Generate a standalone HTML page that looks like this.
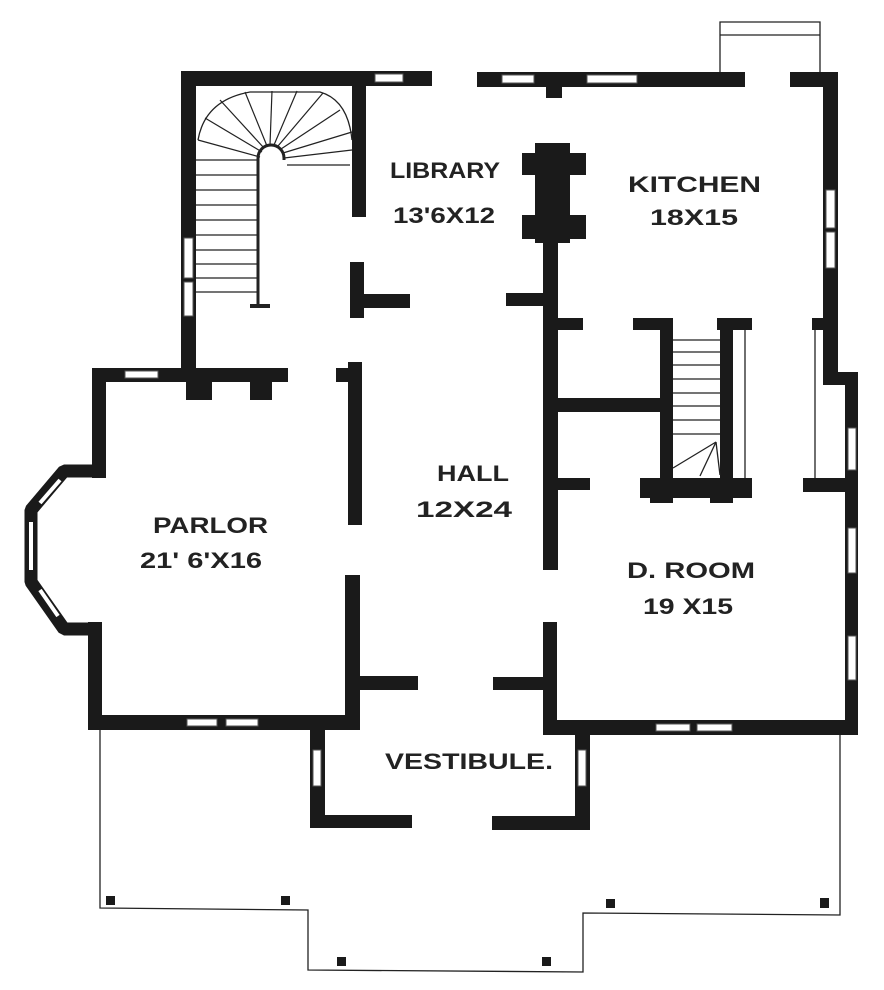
<!DOCTYPE html>
<html><head><style>html,body{margin:0;padding:0;background:#fff;}svg{display:block}</style></head>
<body>
<svg width="884" height="990" viewBox="0 0 884 990" xmlns="http://www.w3.org/2000/svg">
<g fill="#1a1a1a">
<rect x="181" y="71" width="251" height="15"/>
<rect x="181" y="71" width="15" height="297"/>
<rect x="352" y="71" width="14" height="146"/>
<rect x="477" y="72" width="268" height="15"/>
<rect x="546" y="86" width="16" height="12"/>
<rect x="790" y="72" width="48" height="15"/>
<rect x="823" y="72" width="15" height="305"/>
<rect x="535" y="143" width="35" height="100"/>
<rect x="522" y="153" width="64" height="22"/>
<rect x="522" y="215" width="64" height="24"/>
<rect x="543" y="240" width="15" height="330"/>
<rect x="506" y="293" width="40" height="13"/>
<rect x="558" y="318" width="25" height="12"/>
<rect x="350" y="262" width="14" height="56"/>
<rect x="362" y="294" width="48" height="14"/>
<rect x="348" y="362" width="14" height="163"/>
<rect x="336" y="368" width="14" height="14"/>
<rect x="345" y="575" width="15" height="155"/>
<rect x="358" y="676" width="60" height="14"/>
<rect x="543" y="622" width="14" height="113"/>
<rect x="493" y="677" width="52" height="13"/>
<rect x="558" y="398" width="104" height="14"/>
<rect x="660" y="320" width="13" height="178"/>
<rect x="633" y="318" width="40" height="12"/>
<rect x="717" y="318" width="35" height="12"/>
<rect x="720" y="320" width="13" height="178"/>
<rect x="640" y="478" width="112" height="20"/>
<rect x="650" y="490" width="23" height="13"/>
<rect x="710" y="490" width="23" height="13"/>
<rect x="558" y="478" width="32" height="12"/>
<rect x="812" y="318" width="14" height="12"/>
<rect x="823" y="372" width="35" height="13"/>
<rect x="845" y="372" width="13" height="363"/>
<rect x="803" y="478" width="44" height="14"/>
<rect x="543" y="720" width="315" height="15"/>
<rect x="92" y="368" width="196" height="14"/>
<rect x="186" y="380" width="26" height="20"/>
<rect x="250" y="380" width="22" height="20"/>
<rect x="92" y="368" width="14" height="110"/>
<rect x="88" y="622" width="14" height="108"/>
<rect x="88" y="715" width="272" height="15"/>
<rect x="310" y="728" width="15" height="100"/>
<rect x="310" y="815" width="102" height="13"/>
<rect x="492" y="816" width="98" height="14"/>
<rect x="575" y="733" width="15" height="97"/>
<rect x="106" y="896" width="9" height="9"/>
<rect x="281" y="896" width="9" height="9"/>
<rect x="606" y="899" width="9" height="9"/>
<rect x="820" y="898" width="9" height="10"/>
<rect x="337" y="957" width="9" height="9"/>
<rect x="542" y="957" width="9" height="9"/>
</g>
<!-- bay -->
<polyline points="102,471 64,471 31,510 31,582 64,629 98,629" fill="none" stroke="#1a1a1a" stroke-width="13" stroke-linejoin="bevel"/>
<g stroke="#fff" stroke-width="4" fill="none">
<line x1="40" y1="503" x2="60" y2="480"/>
<line x1="31" y1="522" x2="31" y2="570"/>
<line x1="40" y1="590" x2="58" y2="616"/>
</g>
<g fill="#fff" stroke="#555" stroke-width="1">
<rect x="375" y="74" width="28" height="8"/>
<rect x="502" y="75" width="32" height="8"/>
<rect x="587" y="75" width="50" height="8"/>
<rect x="826" y="190" width="9" height="38"/>
<rect x="826" y="232" width="9" height="36"/>
<rect x="184" y="238" width="9" height="40"/>
<rect x="184" y="282" width="9" height="34"/>
<rect x="125" y="371" width="33" height="7"/>
<rect x="187" y="719" width="30" height="7"/>
<rect x="226" y="719" width="32" height="7"/>
<rect x="848" y="428" width="8" height="42"/>
<rect x="848" y="528" width="8" height="45"/>
<rect x="848" y="636" width="8" height="44"/>
<rect x="656" y="724" width="34" height="7"/>
<rect x="697" y="724" width="35" height="7"/>
<rect x="313" y="750" width="8" height="36"/>
<rect x="578" y="750" width="8" height="36"/>
</g>
<g stroke="#222" stroke-width="1.3" fill="none">
<polyline points="100,730 100,908 308,910 308,970 583,972 583,913 840,915 840,735"/>
<polyline points="720,72 720,22 820,22 820,72"/>
<line x1="720" y1="35" x2="820" y2="35"/>
<line x1="745" y1="330" x2="745" y2="478"/>
<line x1="815" y1="330" x2="815" y2="478"/>
<line x1="673" y1="340" x2="720" y2="340"/>
<line x1="673" y1="352" x2="720" y2="352"/>
<line x1="673" y1="365" x2="720" y2="365"/>
<line x1="673" y1="379" x2="720" y2="379"/>
<line x1="673" y1="393" x2="720" y2="393"/>
<line x1="673" y1="406" x2="720" y2="406"/>
<line x1="673" y1="420" x2="720" y2="420"/>
<line x1="673" y1="434" x2="720" y2="434"/>
<line x1="716" y1="442" x2="673" y2="468"/>
<line x1="716" y1="442" x2="700" y2="476"/>
<line x1="716" y1="442" x2="720" y2="475"/>
<path d="M198,140 Q205,100 250,92 L320,92 Q348,100 352,140" />
<path d="M258,305 L258,158 A13,13 0 0 1 284,158 L284,160" stroke-width="3"/>
<line x1="250" y1="306" x2="270" y2="306" stroke-width="4"/>
<g stroke-width="1.2">
<line x1="260" y1="157" x2="198" y2="140"/>
<line x1="262" y1="152" x2="205" y2="118"/>
<line x1="264" y1="148" x2="220" y2="100"/>
<line x1="267" y1="146" x2="245" y2="92"/>
<line x1="270" y1="145" x2="272" y2="91"/>
<line x1="274" y1="145" x2="297" y2="91"/>
<line x1="278" y1="146" x2="323" y2="93"/>
<line x1="281" y1="149" x2="340" y2="110"/>
<line x1="283" y1="153" x2="352" y2="132"/>
<line x1="284" y1="158" x2="352" y2="150"/>
<line x1="287" y1="165" x2="350" y2="165"/>
<line x1="196" y1="160" x2="258" y2="160"/>
<line x1="196" y1="175" x2="258" y2="175"/>
<line x1="196" y1="190" x2="258" y2="190"/>
<line x1="196" y1="205" x2="258" y2="205"/>
<line x1="196" y1="220" x2="258" y2="220"/>
<line x1="196" y1="235" x2="258" y2="235"/>
<line x1="196" y1="250" x2="258" y2="250"/>
<line x1="196" y1="264" x2="258" y2="264"/>
<line x1="196" y1="278" x2="258" y2="278"/>
<line x1="196" y1="292" x2="258" y2="292"/>
</g>
</g>
<g font-family="Liberation Sans, sans-serif" font-weight="bold" font-size="22" fill="#222">
<text x="390" y="178" textLength="110" lengthAdjust="spacingAndGlyphs">LIBRARY</text>
<text x="393" y="223" textLength="102" lengthAdjust="spacingAndGlyphs">13'6X12</text>
<text x="628" y="192" textLength="133" lengthAdjust="spacingAndGlyphs">KITCHEN</text>
<text x="650" y="225" textLength="88" lengthAdjust="spacingAndGlyphs">18X15</text>
<text x="437" y="481" textLength="72" lengthAdjust="spacingAndGlyphs">HALL</text>
<text x="416" y="517" textLength="96" lengthAdjust="spacingAndGlyphs">12X24</text>
<text x="153" y="533" textLength="115" lengthAdjust="spacingAndGlyphs">PARLOR</text>
<text x="140" y="568" textLength="122" lengthAdjust="spacingAndGlyphs">21' 6'X16</text>
<text x="627" y="578" textLength="128" lengthAdjust="spacingAndGlyphs">D. ROOM</text>
<text x="643" y="614" textLength="90" lengthAdjust="spacingAndGlyphs">19 X15</text>
<text x="385" y="769" textLength="168" lengthAdjust="spacingAndGlyphs">VESTIBULE.</text>
</g>
</svg>
</body></html>
